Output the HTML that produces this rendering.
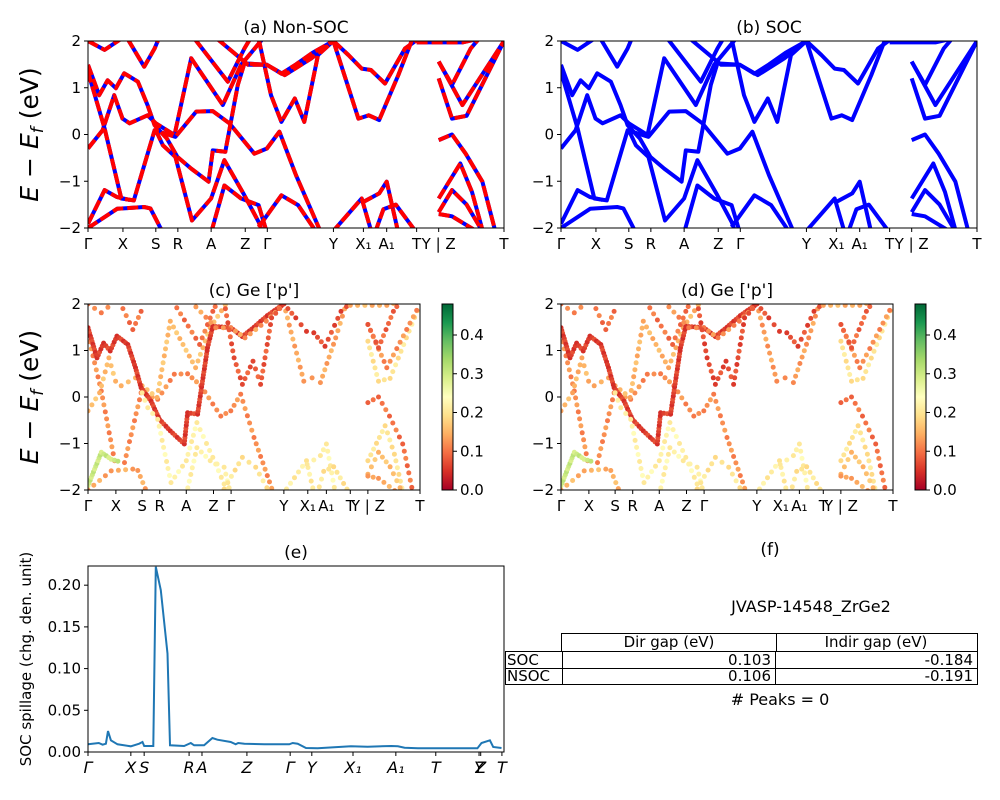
<!DOCTYPE html>
<html><head><meta charset="utf-8">
<style>
html,body{margin:0;padding:0;background:#fff;}
svg{display:block;font-family:"DejaVu Sans","Liberation Sans",sans-serif;}
</style></head>
<body>
<svg id="fig" width="1000" height="800" viewBox="0 0 1000 800" xmlns="http://www.w3.org/2000/svg">
<defs>
<clipPath id="clipA"><rect x="88" y="41" width="416" height="187"/></clipPath>
<clipPath id="clipB"><rect x="561" y="41" width="416" height="187"/></clipPath>
<clipPath id="clipC"><rect x="88" y="304" width="332" height="186"/></clipPath>
<clipPath id="clipD"><rect x="561" y="304" width="332" height="186"/></clipPath>
<linearGradient id="cmap" x1="0" y1="1" x2="0" y2="0">
<stop offset="0" stop-color="#a50026"/><stop offset="0.1" stop-color="#d73027"/><stop offset="0.2" stop-color="#f46d43"/><stop offset="0.3" stop-color="#fdae61"/><stop offset="0.4" stop-color="#fee08b"/><stop offset="0.5" stop-color="#ffffbf"/><stop offset="0.6" stop-color="#d9ef8b"/><stop offset="0.7" stop-color="#a6d96a"/><stop offset="0.8" stop-color="#66bd63"/><stop offset="0.9" stop-color="#1a9850"/><stop offset="1" stop-color="#006837"/>
</linearGradient>
</defs>
<g id="root"></g>
</svg>
<script>
const kTicks=[0,.084,.163,.216,.296,.378,.431,.59,.662,.718,.79,.843,1];
const kLabels=["Γ","X","S","R","A","Z","Γ","Y","X₁","A₁","T","Y | Z","T"];
const eTicks=[2,1,0,-1,-2];
const eTickLabels=["2","1","0","−1","−2"];
const bands=[
 [[0,1.34],[.04,.13],[.08,-1.37],[.11,-1.41],[.16,.09],[.21,-.05],[.26,.49],[.30,.5],[.34,.24],[.40,-.41],[.43,-.3],[.46,.06],[.50,-.87],[.56,-2.1]],
 [[0,-.3],[.035,.09],[.063,.84],[.083,.34],[.10,.24],[.143,.41],[.163,.24],[.208,-.01],[.248,1.63],[.324,.63],[.368,1.49],[.425,2.1]],
 [[0,1.49],[.027,.84],[.047,1.16],[.067,.99],[.087,1.31],[.12,1.13],[.143,.63],[.16,.2],[.19,-.09],[.215,-.48],[.248,-.73],[.29,-1.01],[.30,-.34],[.33,-.37],[.36,1.06],[.376,1.52],[.43,1.49],[.465,1.3],[.50,1.5],[.54,1.75],[.59,2]],
 [[0,-1.91],[.04,-1.19],[.07,-1.34],[.1,-1.4]],
 [[.163,.09],[.18,-.23],[.21,-.48],[.25,-1.84],[.296,-1.37],[.328,-.55],[.376,-1.3],[.41,-1.87],[.42,-2.1]],
 [[0,-2],[.07,-1.59],[.135,-1.55],[.15,-1.58],[.18,-2.1]],
 [[.296,-2.1],[.328,-1.09],[.368,-1.37],[.41,-1.51],[.43,-2.1]],
 [[.41,-1.98],[.465,-1.3],[.505,-1.51],[.55,-2.1]],
 [[0,2],[.04,1.81],[.08,2.05]],
 [[.095,2.05],[.135,1.45],[.16,1.84],[.17,2.05]],
 [[.256,2.05],[.336,1.13],[.376,1.84],[.39,2.05]],
 [[.31,2.05],[.385,1.49],[.43,1.49],[.473,1.27],[.537,1.63],[.59,2]],
 [[.41,2.05],[.44,.84],[.465,.27],[.497,.77],[.52,.27],[.553,1.7],[.59,2]],
 [[.59,2],[.65,.34],[.675,.41],[.70,.31],[.746,1.27],[.78,2.05]],
 [[.59,2],[.626,1.7],[.658,1.41],[.68,1.38],[.714,1.09],[.762,1.84],[.795,2.05]],
 [[.79,1.97],[.9,1.97],[.94,2.05]],
 [[.586,-2.1],[.658,-1.37],[.682,-2.1]],
 [[.66,-1.45],[.70,-1.26],[.718,-1.01],[.746,-2.1]],
 [[.69,-2.1],[.71,-1.6],[.74,-1.5],[.79,-2.1]],
 [[.843,-.12],[.875,0],[.908,-.41],[.948,-1.01],[.98,-2.1]],
 [[.843,-1.37],[.895,-.62],[.923,-1.23],[.95,-2.1]],
 [[.843,-1.66],[.875,-1.19],[.91,-1.5],[.95,-2.1]],
 [[.843,-1.7],[.875,-1.75],[.94,-2.1]],
 [[.843,1.2],[.875,.34],[.91,.4],[1,2]],
 [[.843,1.56],[.9,.63],[1,2]],
 [[.843,1.56],[.875,1.06],[.92,1.84],[.94,2.05]]
];
const weightsC=[0.12,0.16,0.06,0.3,0.22,0.14,0.22,0.2,0.12,0.1,0.1,0.13,0.08,0.14,0.07,0.15,0.21,0.22,0.2,0.1,0.2,0.16,0.14,0.2,0.12,0.09];
const weightsD=[0.12,0.15,0.06,0.3,0.22,0.15,0.22,0.2,0.12,0.1,0.1,0.12,0.07,0.13,0.07,0.15,0.21,0.22,0.2,0.1,0.2,0.16,0.14,0.2,0.12,0.09];
const cbTicks=[0,0.1,0.2,0.3,0.4];
const cbLabels=["0.0","0.1","0.2","0.3","0.4"];
const spillK=[0,.026,.035,.043,.048,.055,.071,.103,.123,.131,.135,.157,.163,.175,.191,.197,.231,.247,.255,.279,.299,.311,.343,.355,.361,.376,.424,.484,.492,.504,.524,.552,.632,.672,.729,.745,.761,.793,.936,.946,.966,.974,.994];
const spillV=[.0092,.0108,.0088,.01,.025,.014,.0092,.0068,.01,.012,.0072,.0072,.222,.194,.118,.008,.0072,.0108,.008,.008,.0168,.0148,.012,.0092,.0108,.01,.0092,.0092,.0108,.01,.0048,.0044,.0068,.0064,.0072,.0068,.0052,.0044,.0044,.0108,.014,.006,.0048];
const eKTicks=[0,.103,.135,.243,.274,.382,.486,.538,.637,.74,.836,.94,.944,.995];
const eKLabels=["Γ","X","S","R","A","Z","Γ","Y","X₁","A₁","T","Y","Z","T"];
const spillTicks=[0,0.05,0.1,0.15,0.2];
const spillTickLabels=["0.00","0.05","0.10","0.15","0.20"];

const NS="http://www.w3.org/2000/svg";
const root=document.getElementById('root');
function el(tag,attrs,parent,text){const e=document.createElementNS(NS,tag);for(const k in attrs)e.setAttribute(k,attrs[k]);if(text!==undefined)e.textContent=text;(parent||root).appendChild(e);return e;}
function cmap(v){const stops=["#a50026","#d73027","#f46d43","#fdae61","#fee08b","#ffffbf","#d9ef8b","#a6d96a","#66bd63","#1a9850","#006837"];
 let t=Math.max(0,Math.min(1,v/0.48))*10;const i=Math.min(9,Math.floor(t));const f=t-i;
 const a=stops[i],b=stops[i+1];const p=(s,o)=>parseInt(s.substr(o,2),16);
 const c=[1,3,5].map(o=>Math.round(p(a,o)+(p(b,o)-p(a,o))*f));return `rgb(${c[0]},${c[1]},${c[2]})`;}

function axes(px,py,w,h,name,title,ticksK,labels,showY){
 const g=el('g',{},root);
 
 
 const xs=k=>px+k*w, ys=E=>py+(2-E)/4*h;
 const t=el('text',{x:px+w/2,y:py-8,'text-anchor':'middle','font-size':'17'},g,title);
 
 
 return {g,xs,ys,finish(){
  el('rect',{x:px,y:py,width:w,height:h,fill:'none',stroke:'#000','stroke-width':1},g);
  ticksK.forEach((k,i)=>{el('line',{x1:xs(k),y1:py+h,x2:xs(k),y2:py+h+4,stroke:'#000'},g);
   const tl=el('text',{x:xs(k),y:py+h+21,'text-anchor':'middle','font-size':'15'},g,labels[i]);
   
   });
  eTicks.forEach((E,i)=>{el('line',{x1:px-4,y1:ys(E),x2:px,y2:ys(E),stroke:'#000'},g);
   const tl=el('text',{x:px-7,y:ys(E)+5,'text-anchor':'end','font-size':'15'},g,eTickLabels[i]);
   
   });
  if(showY){const yl=el('text',{transform:`translate(${px-50},${py+h/2}) rotate(-90)`,'text-anchor':'middle','font-size':'25'},g);
   
   
   el('tspan',{'font-style':'italic'},yl,'E');el('tspan',{},yl,' − ');el('tspan',{'font-style':'italic'},yl,'E');
   el('tspan',{'font-style':'italic','font-size':'17',dy:'5'},yl,'f');el('tspan',{dy:'-5'},yl,' (eV)');}
 }};
}
function pts(b,ax){return b.map(p=>ax.xs(p[0]).toFixed(1)+','+ax.ys(p[1]).toFixed(1)).join(' ');}

const A=axes(88,41,416,187,'panel-a-nonsoc','(a) Non-SOC',kTicks,kLabels,true);
const ga=el('g',{'clip-path':'url(#clipA)'},A.g);
bands.forEach(b=>{const l=el('polyline',{points:pts(b,A),fill:'none',stroke:'#0000ff','stroke-width':4,'stroke-linejoin':'round'},ga);
 
 });
bands.forEach(b=>{const l=el('polyline',{points:pts(b,A),fill:'none',stroke:'#ff0000','stroke-width':4,'stroke-dasharray':'11 4','stroke-linejoin':'round'},ga);
 
 });
A.finish();
const B=axes(561,41,416,187,'panel-b-soc','(b) SOC',kTicks,kLabels,false);
const gb=el('g',{'clip-path':'url(#clipB)'},B.g);
bands.forEach(b=>{const l=el('polyline',{points:pts(b,B),fill:'none',stroke:'#0000ff','stroke-width':4,'stroke-linejoin':'round'},gb);
 
 });
B.finish();

function scatterPanel(px,name,title,weights,clip,showY){
 const P=axes(px,304,332,186,name,title,kTicks,kLabels,showY);
 const gs=el('g',{'clip-path':`url(#${clip})`},P.g);
 bands.forEach((b,bi)=>{const w=weights[bi];const step=w>0.27||w<0.07?3:7;
  for(let i=0;i<b.length-1;i++){const x1=P.xs(b[i][0]),y1=P.ys(b[i][1]),x2=P.xs(b[i+1][0]),y2=P.ys(b[i+1][1]);
   const L=Math.hypot(x2-x1,y2-y1);const n=Math.max(1,Math.round(L/step));
   for(let j=0;j<n;j++){const f=j/n;
    const d=el('circle',{cx:(x1+(x2-x1)*f).toFixed(1),cy:(y1+(y2-y1)*f).toFixed(1),r:2.5,fill:cmap(w+((j%3)-1)*0.015)},gs);
    
    }}});
 P.finish();
 const cx=px+354;
 const cb=el('g',{},root);
 
 
 el('rect',{x:cx,y:304,width:11,height:186,fill:'url(#cmap)',stroke:'#000','stroke-width':1},cb);
 cbTicks.forEach((v,i)=>{const y=490-v/0.48*186;el('line',{x1:cx+11,y1:y,x2:cx+15,y2:y,stroke:'#000'},cb);
  el('text',{x:cx+18,y:y+5,'font-size':'15'},cb,cbLabels[i]);});
}
scatterPanel(88,'panel-c-ge-p','(c)  Ge [\'p\']',weightsC,'clipC',true);
scatterPanel(561,'panel-d-ge-p','(d) Ge [\'p\']',weightsD,'clipD',false);

(function(){
 const px=88,py=566,w=416,h=186,ymax=0.223;
 const g=el('g',{},root);
 
 
 const xs=k=>px+k*w, ys=v=>py+h-v/ymax*h;
 el('text',{x:px+w/2,y:py-8,'text-anchor':'middle','font-size':'17'},g,'(e)');
 const l=el('polyline',{points:spillK.map((k,i)=>xs(k).toFixed(1)+','+ys(spillV[i]).toFixed(1)).join(' '),fill:'none',stroke:'#1f77b4','stroke-width':2},g);
 
 
 el('rect',{x:px,y:py,width:w,height:h,fill:'none',stroke:'#000'},g);
 spillTicks.forEach((v,i)=>{el('line',{x1:px-4,y1:ys(v),x2:px,y2:ys(v),stroke:'#000'},g);
  el('text',{x:px-7,y:ys(v)+5,'text-anchor':'end','font-size':'15'},g,spillTickLabels[i]);});
 eKTicks.forEach((k,i)=>{el('line',{x1:xs(k),y1:py+h,x2:xs(k),y2:py+h+4,stroke:'#000'},g);
  el('text',{x:xs(k),y:py+h+21,'text-anchor':'middle','font-size':'16','font-style':'italic'},g,eKLabels[i]);});
 const yl=el('text',{transform:`translate(31,${py+h/2}) rotate(-90)`,'text-anchor':'middle','font-size':'15'},g,'SOC spillage (chg. den. unit)');
 
 
})();
</script>
<div style="position:absolute;left:0;top:0;width:1000px;height:800px;pointer-events:none;font-family:'DejaVu Sans','Liberation Sans',sans-serif;">
 <div style="position:absolute;left:740px;top:540px;width:60px;text-align:center;font-size:17px;">(f)</div>
 <div style="position:absolute;left:700px;top:597px;width:222px;text-align:center;font-size:16px;">JVASP-14548_ZrGe2</div>
 <div style="position:absolute;left:561px;top:633px;width:214px;height:17px;border:1px solid #000;font-size:15px;text-align:center;line-height:17px;">Dir gap (eV)</div>
 <div style="position:absolute;left:775px;top:633px;width:202px;height:17px;border:1px solid #000;border-left:none;font-size:15px;text-align:center;line-height:17px;">Indir gap (eV)</div>
 <div style="position:absolute;left:505px;top:651px;width:55px;height:16px;border:1px solid #000;font-size:15px;line-height:16px;padding-left:1px;">SOC</div>
 <div style="position:absolute;left:561px;top:651px;width:210px;height:16px;border:1px solid #000;border-left:none;font-size:15px;line-height:16px;text-align:right;padding-right:4px;">0.103</div>
 <div style="position:absolute;left:776px;top:651px;width:197px;height:16px;border:1px solid #000;border-left:none;font-size:15px;line-height:16px;text-align:right;padding-right:4px;">-0.184</div>
 <div style="position:absolute;left:505px;top:668px;width:55px;height:16px;border:1px solid #000;border-top:none;font-size:15px;line-height:16px;padding-left:1px;">NSOC</div>
 <div style="position:absolute;left:561px;top:668px;width:210px;height:16px;border:1px solid #000;border-left:none;border-top:none;font-size:15px;line-height:16px;text-align:right;padding-right:4px;">0.106</div>
 <div style="position:absolute;left:776px;top:668px;width:197px;height:16px;border:1px solid #000;border-left:none;border-top:none;font-size:15px;line-height:16px;text-align:right;padding-right:4px;">-0.191</div>
 <div style="position:absolute;left:700px;top:690px;width:160px;text-align:center;font-size:16px;"># Peaks = 0</div>
</div>
</body></html>
